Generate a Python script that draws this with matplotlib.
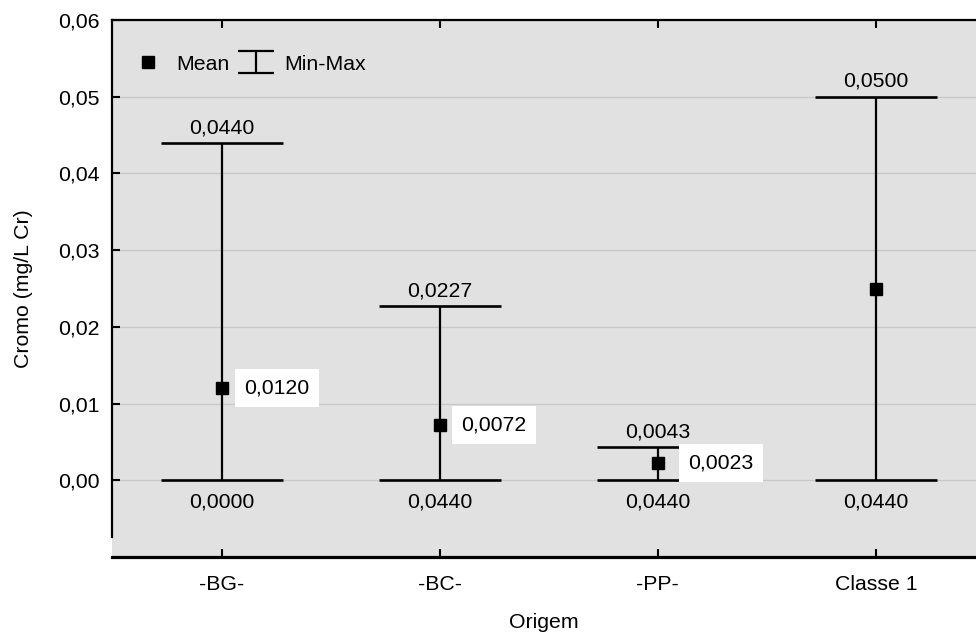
import numpy as np
import matplotlib
matplotlib.use("Agg")
import matplotlib.pyplot as plt
from matplotlib.lines import Line2D
from matplotlib.path import Path

plt.rcParams['font.family'] = ['Liberation Sans', 'DejaVu Sans']
plt.rcParams['font.size'] = 15.3

# dados (Cromo, mg/L Cr)
origens = ['-BG-', '-BC-', '-PP-', 'Classe 1']
medias = [0.0120, 0.0072, 0.0023, 0.0250]
minimos = [0.0, 0.0, 0.0, 0.0]
maximos = [0.0440, 0.0227, 0.0043, 0.0500]
rotulos_min = ['0,0000', '0,0440', '0,0440', '0,0440']
rotulos_max = ['0,0440', '0,0227', '0,0043', '0,0500']
rotulos_media = ['0,0120', '0,0072', '0,0023', None]
yticks = [0.00, 0.01, 0.02, 0.03, 0.04, 0.05, 0.06]

# deslocamento horizontal (pt) dos rotulos da media
desloc_media = [16, 15.5, 22, 16]

fig = plt.figure(figsize=(9.76, 6.35), dpi=100)
ax = fig.add_axes([112 / 976, 78 / 635, 864 / 976, 537 / 635])
ax.set_facecolor('#e1e1e1')

x = np.arange(len(origens))
medias_a = np.array(medias)
yerr = [medias_a - np.array(minimos), np.array(maximos) - medias_a]

ax.errorbar(x, medias, yerr=yerr, fmt='s', color='black', ms=8.8,
            elinewidth=1.6, capsize=44, capthick=1.9, zorder=3)

for i in range(len(origens)):
    ax.annotate(rotulos_max[i], (x[i], maximos[i]), xytext=(0, 7),
                textcoords='offset points', ha='center', va='baseline', zorder=5)
    ax.annotate(rotulos_min[i], (x[i], minimos[i]), xytext=(0, -9),
                textcoords='offset points', ha='center', va='top', zorder=5)
    if rotulos_media[i] is not None:
        ax.annotate(rotulos_media[i], (x[i], medias[i]), xytext=(desloc_media[i], 0),
                    textcoords='offset points', ha='left', va='center', zorder=6,
                    bbox=dict(boxstyle='square,pad=0.45', fc='white', ec='none'))

ax.set_xlim(-0.505, 3.46)
ax.set_ylim(-0.01, 0.06)
ax.set_xticks(x)
ax.set_xticklabels(origens)
ax.set_yticks(yticks)
ax.set_yticklabels([f"{v:.2f}".replace('.', ',') for v in yticks])

ax.yaxis.grid(True, color='#c8c8c8', lw=0.9)
ax.set_axisbelow(True)

ax.tick_params(axis='x', direction='in', length=6, width=1.5, top=True, pad=13)
ax.tick_params(axis='y', direction='in', length=6, width=1.5, pad=9)

ax.spines['right'].set_visible(False)
ax.spines['top'].set_linewidth(1.6)
ax.spines['left'].set_linewidth(1.6)
ax.spines['bottom'].set_linewidth(2.3)
ax.spines['left'].set_bounds(-0.0074, 0.06)

ax.set_xlabel('Origem', labelpad=14)
ax.set_ylabel('Cromo (mg/L Cr)', labelpad=18)

# legenda
ibeam = Path([(-1, 0.6), (1, 0.6), (0, 0.6), (0, -0.6), (-1, -0.6), (1, -0.6)],
             [Path.MOVETO, Path.LINETO, Path.MOVETO, Path.LINETO, Path.MOVETO, Path.LINETO])
h_media = Line2D([], [], marker='s', ls='none', color='black', ms=8.8)
h_minmax = Line2D([], [], marker=ibeam, ls='none', color='black', ms=26,
                  mew=1.6, fillstyle='none')
ax.legend([h_media, h_minmax], ['Mean', 'Min-Max'], ncol=2, frameon=False,
          loc='center left', bbox_to_anchor=(0.020, 0.918), borderaxespad=0,
          borderpad=0, handlelength=1.75, handletextpad=0.45, columnspacing=0.4)

fig.savefig('out.png', dpi=100)
